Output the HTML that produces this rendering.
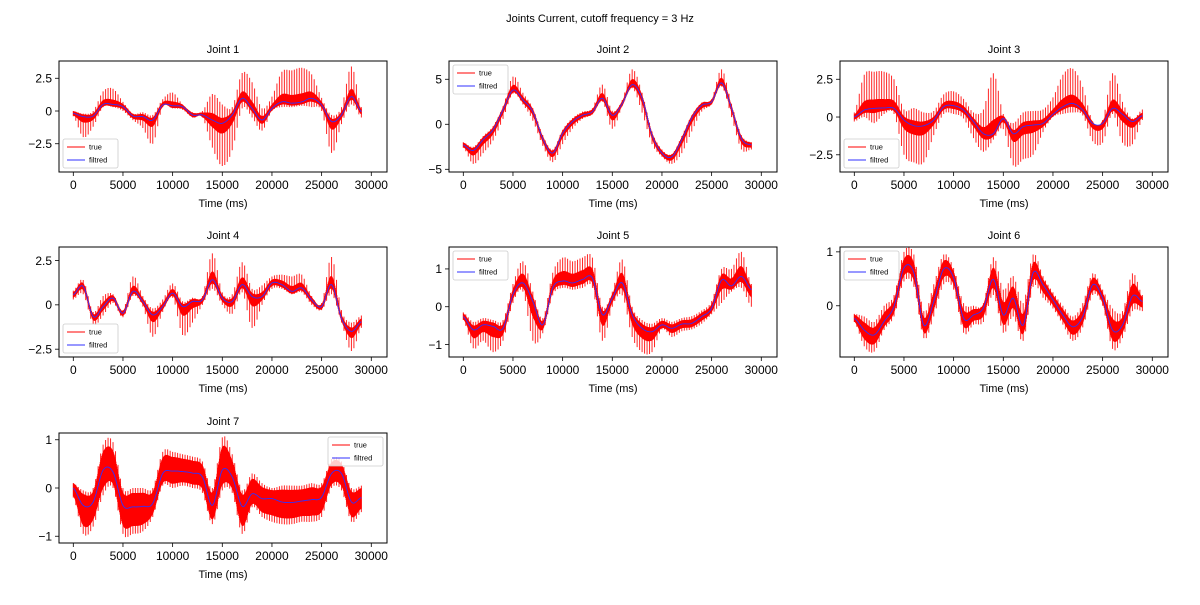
<!DOCTYPE html>
<html><head><meta charset="utf-8">
<style>
body{margin:0;background:#fff;}
svg text{font-family:"Liberation Sans","DejaVu Sans",sans-serif;fill:#000;}
</style></head>
<body>
<svg id="fig" width="1200" height="600" viewBox="0 0 1200 600" xmlns="http://www.w3.org/2000/svg">
<rect width="1200" height="600" fill="#fff"/>
<text x="600" y="22" font-size="11" text-anchor="middle">Joints Current, cutoff frequency = 3 Hz</text>
</svg>
<script>
const times = [0,1,2,3,4,5,6,7,8,9,10,11,12,13,14,15,16,17,18,19,20,21,22,23,24,25,26,27,28,29];
const xTicks = [0,5000,10000,15000,20000,25000,30000];

const j1Filt = [-0.18,-0.43,-0.38,0.5,0.5,0.33,-0.38,-0.43,-0.69,0.46,0.4,0.33,-0.3,-0.3,-0.69,-0.94,-0.3,0.97,0.2,-0.69,0.2,0.7,0.6,0.7,0.97,0.46,-0.8,-0.3,1.1,-0.05];
const j1Hi = [0,-0.2,0,1.5,1.7,0.7,-0.2,-0.1,-0.3,0.9,1.4,0.5,-0.1,0,1.3,0.5,0.3,2.9,2.2,0.2,1.1,3.0,3.1,3.3,2.8,1.0,-0.3,0.3,3.4,0.3];
const j1Lo = [-0.4,-2.0,-1.2,0.3,0.3,0,-0.7,-1.3,-2.5,0.3,0.2,0.1,-0.5,-0.5,-2.8,-4.2,-3.0,0.2,-0.5,-1.5,0,0.3,0.3,0.4,0.3,0,-3.2,-1.0,0.5,-0.5];
const j1Ticks = [-2.5,0,2.5];

const j2Filt = [-2.3,-2.9,-1.7,-0.6,1.6,3.8,2.7,1.4,-1.6,-3.2,-1.0,0.3,1.0,1.4,2.9,1.0,2.3,4.4,2.9,-1.2,-3.2,-3.6,-1.7,0.7,2.1,2.5,4.6,1.8,-1.6,-2.3];
const j2Hi = [-2.0,-2.5,-1.3,-0.2,2.0,5.3,3.5,1.8,-1.2,-2.8,-0.6,0.7,1.4,1.8,4.4,1.5,2.7,6.1,3.5,-0.8,-2.8,-3.3,-1.3,1.0,2.4,2.8,6.1,2.3,-1.2,-2.0];
const j2Lo = [-2.6,-4.4,-3.2,-1.8,0.6,3.4,2.2,0.4,-2.4,-4.2,-2.2,-0.5,0.6,1.1,2.5,-0.5,2.0,4.0,1.3,-2.2,-3.6,-4.4,-3.2,-0.8,1.4,2.2,4.2,0.8,-2.8,-2.8];
const j2Ticks = [-5,0,5];

const j3Filt = [0,0.46,0.57,0.6,0.57,-0.2,-0.57,-0.57,-0.2,0.68,0.75,0.46,-0.3,-1.1,-1.1,-0.1,-1.1,-0.64,-0.53,-0.42,0.18,0.68,0.9,0.46,-0.42,-0.42,0.57,0.18,-0.3,0.09];
const j3Hi = [0.3,2.8,3.0,3.0,2.5,0.5,0.6,0.3,0.4,1.5,1.7,1.2,0.3,0.5,2.9,0.2,-0.4,0.3,0.4,0.5,1.3,2.8,3.2,2.0,-0.3,-0.2,2.9,1.0,-0.1,0.5];
const j3Lo = [-0.3,0,-0.4,0.2,0.2,-2.5,-3.0,-3.0,-1.2,0.2,0.2,-0.1,-1.4,-2.3,-1.5,-0.8,-3.2,-2.8,-2.5,-1.0,0,0.2,0.3,0.1,-1.6,-1.7,0.2,-1.7,-1.8,-0.2];
const j3Ticks = [-2.5,0,2.5];

const j4Filt = [0.57,1.04,-0.66,-0.1,0.38,-0.47,0.76,0.19,-0.57,-0.1,0.66,-0.1,0.19,0.28,1.42,0.38,0.19,1.14,0.47,0.47,1.23,1.14,0.76,0.95,0.28,-0.1,1.14,-0.76,-1.5,-0.95];
const j4Hi = [0.8,1.4,-0.4,0.5,0.6,-0.3,1.6,0.5,-0.2,0.3,1.2,0.2,0.4,0.5,2.9,0.7,0.6,2.4,0.9,1.1,1.6,1.7,1.6,1.7,0.5,0.1,2.7,-0.3,-1.0,-0.6];
const j4Lo = [0.3,0.6,-1.1,-0.6,0.1,-0.7,0.5,-0.1,-1.8,-0.4,0.4,-1.7,-1.0,0,0.9,0,-0.5,0.7,-1.3,0,0.9,0.9,0.6,0.7,0,-0.3,0.6,-1.0,-2.6,-1.3];
const j4Ticks = [-2.5,0,2.5];

const j5Filt = [-0.26,-0.61,-0.48,-0.52,-0.57,0.32,0.63,0.14,-0.48,0.5,0.68,0.63,0.72,0.76,-0.21,0.23,0.63,-0.21,-0.57,-0.66,-0.48,-0.57,-0.46,-0.44,-0.26,-0.04,0.7,0.55,0.8,0.45];
const j5Hi = [-0.15,-0.4,-0.3,-0.35,-0.35,0.6,1.2,0.4,-0.3,0.9,1.3,1.2,1.3,1.3,0,0.4,1.25,0,-0.35,-0.45,-0.3,-0.4,-0.3,-0.25,-0.1,0.15,1.0,1.0,1.45,0.6];
const j5Lo = [-0.35,-1.1,-0.9,-1.2,-0.9,0.1,0.4,-0.9,-0.7,0.3,0.5,0.45,0.5,0.5,-0.9,0,0.3,-0.8,-1.2,-1.2,-0.6,-0.8,-0.65,-0.6,-0.45,-0.2,0.1,0.4,0.5,0.0];
const j5Ticks = [-1,0,1];

const j6Filt = [-0.23,-0.45,-0.54,-0.29,-0.01,0.7,0.61,-0.36,0.08,0.68,0.52,-0.23,-0.17,-0.04,0.49,-0.17,0.14,-0.36,0.61,0.39,0.11,-0.17,-0.39,-0.2,0.39,0.14,-0.45,-0.36,0.18,0.08];
const j6Hi = [-0.15,-0.2,-0.3,0,0.2,1.0,0.95,-0.1,0.4,0.95,0.7,0.05,0.0,0.05,0.9,0.3,0.55,0.05,0.95,0.55,0.25,0.0,-0.2,0.05,0.6,0.3,-0.05,-0.1,0.6,0.2];
const j6Lo = [-0.3,-0.75,-0.85,-0.45,-0.2,0.45,0.35,-0.6,-0.2,0.4,0.3,-0.5,-0.35,-0.3,0.2,-0.5,-0.2,-0.65,0.35,0.15,-0.05,-0.35,-0.65,-0.4,0.2,0,-0.8,-0.6,-0.1,-0.1];
const j6Ticks = [0,1];

const j7Filt = [0,-0.36,-0.29,0.37,0.33,-0.36,-0.39,-0.38,-0.32,0.3,0.35,0.34,0.31,0.23,-0.36,0.37,0.23,-0.38,-0.12,-0.22,-0.22,-0.29,-0.3,-0.27,-0.24,-0.19,0.3,0.3,-0.29,-0.2];
const j7Hi = [0.1,-0.05,0.0,0.9,0.95,0,0,0.0,0.0,0.75,0.75,0.7,0.65,0.55,0.0,1.05,0.7,-0.05,0.3,0.1,0.0,0.05,0.05,0.05,0.1,0.1,0.6,0.55,0.0,0.05];
const j7Lo = [-0.2,-0.95,-0.8,-0.15,0,-0.95,-0.95,-0.9,-0.6,0.05,0.0,0.05,0.0,-0.1,-0.75,-0.05,-0.1,-0.95,-0.4,-0.6,-0.7,-0.75,-0.75,-0.7,-0.7,-0.6,0.0,-0.05,-0.7,-0.5];
const j7Ticks = [-1,0,1];

const NS = "http://www.w3.org/2000/svg";
const svg = document.getElementById('fig');
function mk(tag, attrs, parent){
  const e = document.createElementNS(NS, tag);
  for (const k in attrs) e.setAttribute(k, attrs[k]);
  (parent||svg).appendChild(e);
  return e;
}
function fmt(v){ return v < 0 ? '\u2212' + Math.abs(v) : String(v); }

const panels = [
  {name:'Joint 1', f:j1Filt, hi:j1Hi, lo:j1Lo, ticks:j1Ticks, box:[59,61,387,172], ymin:-4.66, ymax:3.82, leg:'ll', core:0.2},
  {name:'Joint 2', f:j2Filt, hi:j2Hi, lo:j2Lo, ticks:j2Ticks, box:[449,61,777,172], ymin:-5.3, ymax:7.03, leg:'ul', core:0.25},
  {name:'Joint 3', f:j3Filt, hi:j3Hi, lo:j3Lo, ticks:j3Ticks, box:[840,61,1168,172], ymin:-3.64, ymax:3.71, leg:'ll', core:0.2},
  {name:'Joint 4', f:j4Filt, hi:j4Hi, lo:j4Lo, ticks:j4Ticks, box:[59,247,387,357], ymin:-2.94, ymax:3.26, leg:'ll', core:0.25},
  {name:'Joint 5', f:j5Filt, hi:j5Hi, lo:j5Lo, ticks:j5Ticks, box:[449,247,777,357], ymin:-1.33, ymax:1.58, leg:'ul', core:0.35},
  {name:'Joint 6', f:j6Filt, hi:j6Hi, lo:j6Lo, ticks:j6Ticks, box:[840,247,1168,357], ymin:-0.95, ymax:1.09, leg:'ul', core:0.45},
  {name:'Joint 7', f:j7Filt, hi:j7Hi, lo:j7Lo, ticks:j7Ticks, box:[59,433,387,543], ymin:-1.14, ymax:1.14, leg:'ur', core:0.65}
];

function interp(arr, t){
  const n = arr.length;
  const i = Math.min(Math.floor(t), n-2);
  const u = t - i;
  const p0 = arr[Math.max(i-1,0)], p1 = arr[i], p2 = arr[i+1], p3 = arr[Math.min(i+2,n-1)];
  return 0.5*((2*p1) + (-p0+p2)*u + (2*p0-5*p1+4*p2-p3)*u*u + (-p0+3*p1-3*p2+p3)*u*u*u);
}

panels.forEach((p, pi) => {
  const [x0,y0,x1,y1] = p.box;
  const zeroX = x0 + 14.3;
  const xScale = v => zeroX + v * 0.009933;
  const yScale = v => y1 - (v - p.ymin) / (p.ymax - p.ymin) * (y1 - y0);
  const id = 'joint-' + (pi+1);
  const g = mk('g', {});
  
  
  const clipId = 'clip' + pi;
  const cp = mk('clipPath', {id: clipId}, g);
  mk('rect', {x:x0, y:y0, width:x1-x0, height:y1-y0}, cp);

  const red = mk('g', {'clip-path':'url(#'+clipId+')'}, g);
  
  
  let d = '', dCore = '';
  const last = times[times.length-1];
  for (let k = 0; k <= last*20; k++){
    const t = k/20;
    const fv = interp(p.f, t);
    const hv = Math.max(interp(p.hi, t), fv), lv = Math.min(interp(p.lo, t), fv);
    const X = xScale(t*1000).toFixed(2);
    const up = hv - fv, dn = fv - lv;
    const c = (p.ymax - p.ymin) * 0.015;
    const cu = Math.min(up, c + up*p.core), cd = Math.min(dn, c + dn*p.core);
    dCore += 'M'+X+','+yScale(fv+cu).toFixed(2)+'V'+yScale(fv-cd).toFixed(2);
    if (k % 5 === 0) d += 'M'+X+','+yScale(hv).toFixed(2)+'V'+yScale(lv).toFixed(2);
  }
  mk('path', {d:d, stroke:'#ff0000', 'stroke-width':1, 'stroke-opacity':0.85, fill:'none'}, red);
  mk('path', {d:dCore, stroke:'#ff0000', 'stroke-width':0.7, fill:'none'}, red);

  let pts = [];
  for (let k = 0; k <= last*10; k++){
    const t = k/10;
    pts.push(xScale(t*1000).toFixed(2)+','+yScale(interp(p.f, t)).toFixed(2));
  }
  const fl = mk('polyline', {points:pts.join(' '), fill:'none', stroke:'#3030ff', 'stroke-width':0.9, 'clip-path':'url(#'+clipId+')'}, g);
  
  

  const fr = mk('rect', {x:x0, y:y0, width:x1-x0, height:y1-y0, fill:'none', stroke:'#000', 'stroke-width':1}, g);
  
  

  xTicks.forEach(v => {
    const X = xScale(v);
    mk('line', {x1:X, x2:X, y1:y1, y2:y1+4, stroke:'#000', 'stroke-width':0.8}, g);
    const tx = mk('text', {x:X, y:y1+17, 'font-size':12, 'text-anchor':'middle'}, g);
    tx.textContent = v;
    
    
  });
  const xl = mk('text', {x:(x0+x1)/2, y:y1+35, 'font-size':11, 'text-anchor':'middle'}, g);
  xl.textContent = 'Time (ms)';
  
  
  p.ticks.forEach(v => {
    const Y = yScale(v);
    mk('line', {x1:x0-4, x2:x0, y1:Y, y2:Y, stroke:'#000', 'stroke-width':0.8}, g);
    const ty = mk('text', {x:x0-7, y:Y+4.3, 'font-size':12, 'text-anchor':'end'}, g);
    ty.textContent = fmt(v);
    
    
  });
  const ti = mk('text', {x:(x0+x1)/2, y:y0-8, 'font-size':11, 'text-anchor':'middle'}, g);
  ti.textContent = p.name;
  
  

  const lw = 55, lh = 29;
  let lx, ly;
  if (p.leg === 'll'){ lx = x0+4; ly = y1-lh-4; }
  else if (p.leg === 'ul'){ lx = x0+4; ly = y0+4; }
  else { lx = x1-lw-4; ly = y0+4; }
  const lg = mk('g', {}, g);
  
  
  mk('rect', {x:lx, y:ly, width:lw, height:lh, rx:2, fill:'#fff', 'fill-opacity':0.8, stroke:'#ccc', 'stroke-width':0.8}, lg);
  mk('line', {x1:lx+4, x2:lx+22, y1:ly+8, y2:ly+8, stroke:'#ff0000', 'stroke-width':1}, lg);
  mk('line', {x1:lx+4, x2:lx+22, y1:ly+21, y2:ly+21, stroke:'#3030ff', 'stroke-width':1}, lg);
  const t1 = mk('text', {x:lx+26, y:ly+10.5, 'font-size':7.5}, lg);
  t1.textContent = 'true';
  
  
  const t2 = mk('text', {x:lx+26, y:ly+23.5, 'font-size':7.5}, lg);
  t2.textContent = 'filtred';
  
  
});
</script>
</body></html>
